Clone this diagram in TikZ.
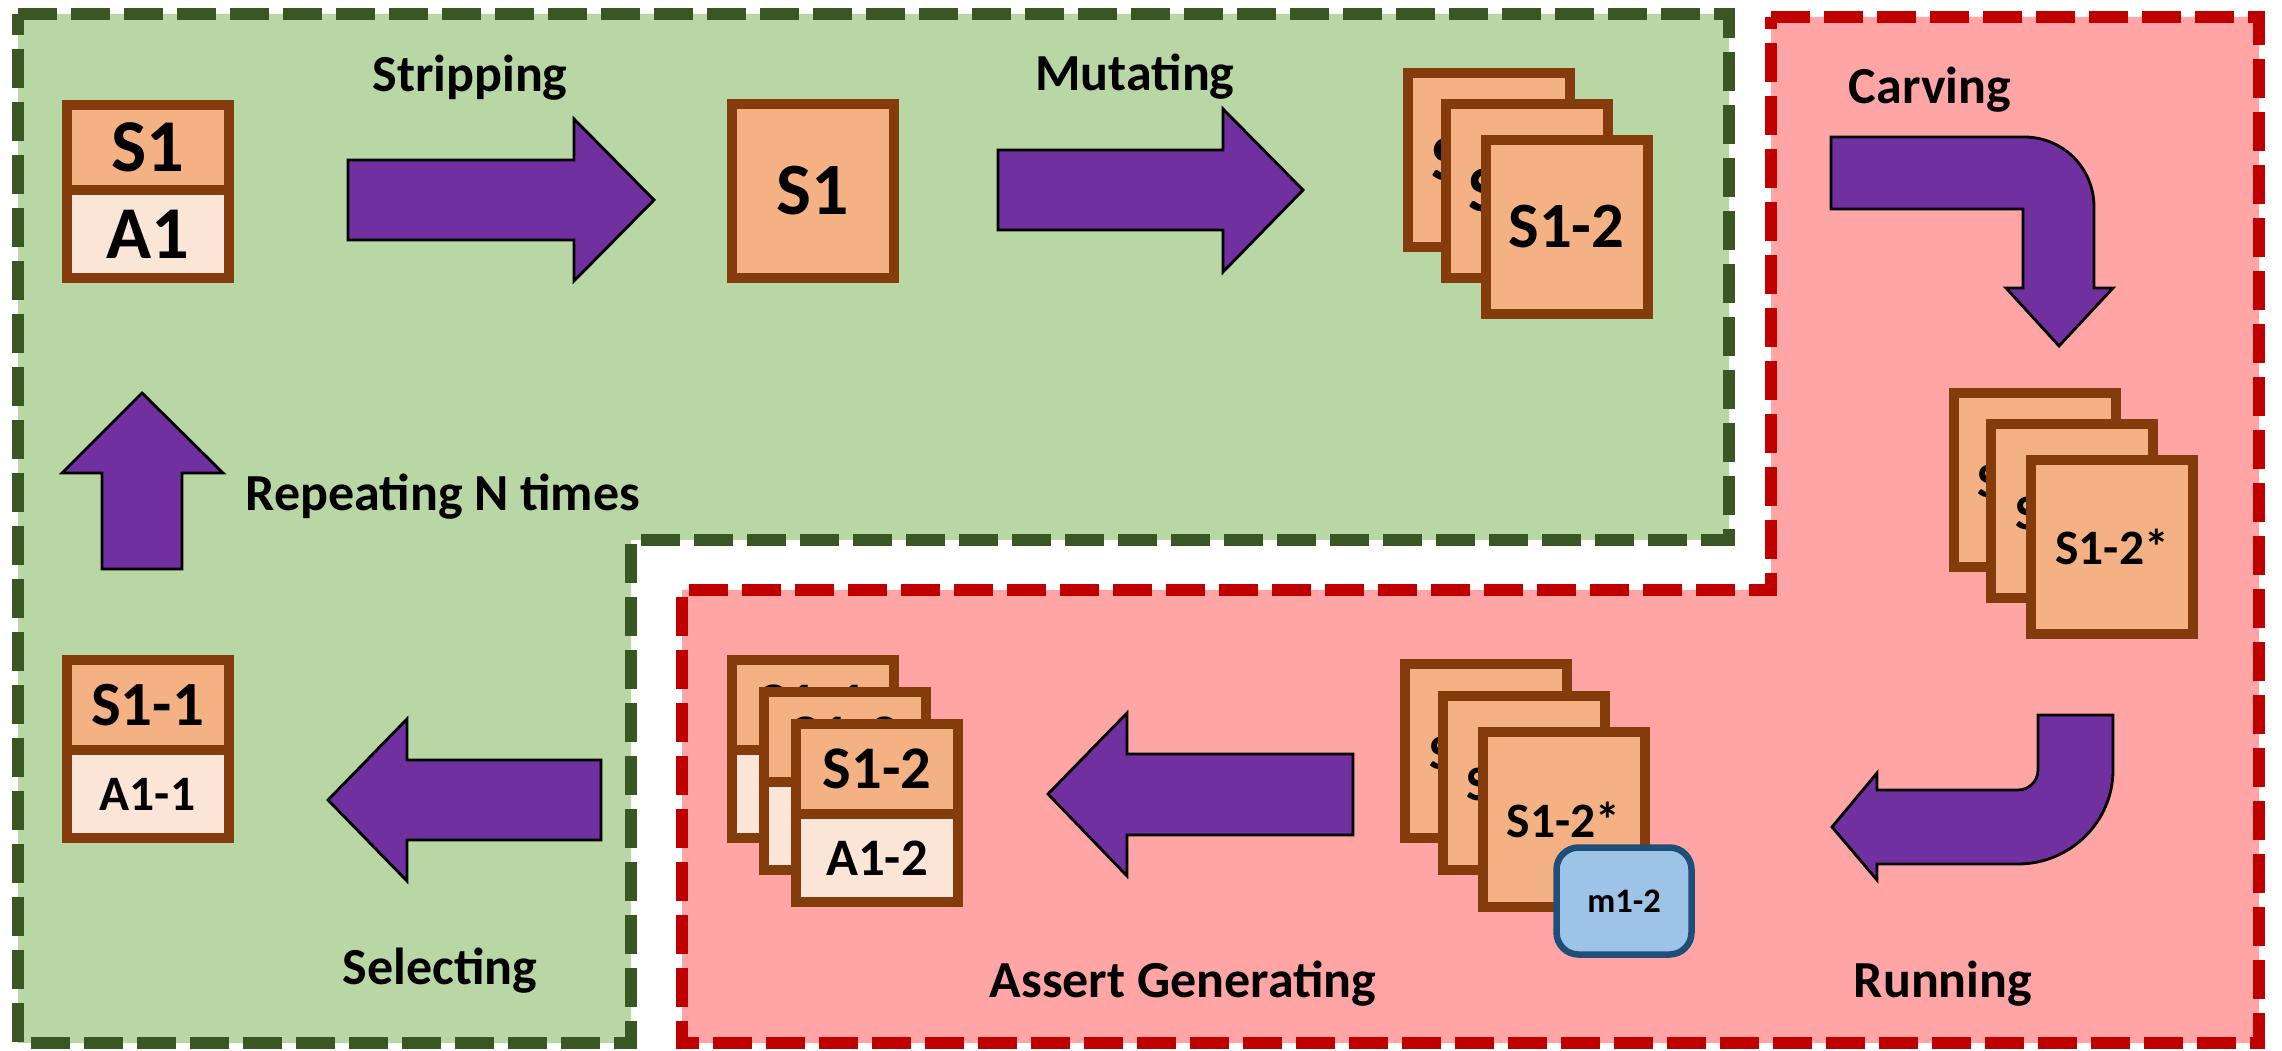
\documentclass[tikz,border=0pt]{standalone}
\usepackage{fontspec}
\setmainfont{Carlito}
\definecolor{greenzone}{HTML}{B9D6A5}
\definecolor{greenedge}{HTML}{385723}
\definecolor{redzone}{HTML}{FFA5A5}
\definecolor{rededge}{HTML}{C00000}
\definecolor{arrowpurple}{HTML}{7030A0}
\definecolor{cardbrown}{HTML}{843C0C}
\definecolor{srcfill}{HTML}{F4B183}
\definecolor{assertfill}{HTML}{FBE5D6}
\definecolor{mutfill}{HTML}{9DC3E6}
\definecolor{mutedge}{HTML}{1F4E79}
\newcommand{\fsz}[1]{\bfseries\fontsize{#1}{#1}\selectfont}
\begin{document}
\begin{tikzpicture}[x=0.1mm, y=-0.1mm,
  zone/.style={line width=1.2mm, dash pattern=on 3.9mm off 1.4mm, line join=miter},
  blockarrow/.style={fill=arrowpurple, draw=black, line width=0.8pt, line join=miter},
  card/.style={rectangle, draw=cardbrown, line width=1mm, fill=srcfill, inner sep=0pt,
    minimum width=16.2mm, minimum height=17.4mm},
  srccell/.style={rectangle, draw=cardbrown, line width=1mm, fill=srcfill, inner sep=0pt,
    minimum width=16.2mm, minimum height=9mm},
  assertcell/.style={rectangle, draw=cardbrown, line width=1mm, fill=assertfill, inner sep=0pt,
    minimum width=16.2mm, minimum height=8.8mm},
  mutbox/.style={rectangle, rounded corners=2.2mm, draw=mutedge, line width=0.65mm, fill=mutfill,
    inner sep=0pt, minimum width=13.5mm, minimum height=10.7mm, font=\fsz{9.8}},
  steplabel/.style={anchor=base, inner sep=0pt, font=\fsz{14.8}}]

\useasboundingbox (0,0) rectangle (2282,1051);
\fill[white] (0,0) rectangle (2282,1051);

% the two stage zones
\path[zone, fill=greenzone, draw=greenedge]
  (18,14) -- (1729,14) -- (1729,540) -- (631,540) -- (631,1043) -- (18,1043) -- cycle;
\path[zone, fill=redzone, draw=rededge]
  (1771,17) -- (2259,17) -- (2259,1043) -- (682,1043) -- (682,590) -- (1771,590) -- cycle;

% seed with its assertion
\node[srccell, minimum height=8.5mm, font=\fsz{21.2}] (seedS) at (148,147.5) {S1};
\node[assertcell, font=\fsz{21.2}] (seedA) at (148,234) {A1};

% stripped seed
\node[card, font=\fsz{21}] (strip) at (813,191) {S1};

% mutants
\begin{scope}[every node/.style={card, font=\fsz{18.4}}]
  \node (mutA) at (1489,160) {S1-1};
  \node (mutB) at (1526.5,191) {S1-3};
  \node (mutC) at (1566.5,227) {S1-2};
\end{scope}

% carved mutants
\begin{scope}[every node/.style={card, font=\fsz{14.1}}]
  \node (carA) at (2034.5,480) {S1-1*};
  \node (carB) at (2072,511.5) {S1-3*};
  \node (carC) at (2112,547) {S1-2*};
\end{scope}

% executed mutants
\begin{scope}[every node/.style={card, font=\fsz{14.1}}]
  \node (runA) at (1486,751.5) {S1-1*};
  \node (runB) at (1523.5,783) {S1-3*};
  \node (runC) at (1563.5,819.5) {S1-2*};
\end{scope}
\node[mutbox] (mut) at (1624,901) {m1-2};

% generated (source, assertion) pairs
\node[srccell, font=\fsz{17.2}] (genAS) at (812.5,705) {S1-1};
\node[assertcell, font=\fsz{15}] (genAA) at (812.5,794) {A1-1};
\node[srccell, font=\fsz{17.2}] (genBS) at (845,737) {S1-3};
\node[assertcell, font=\fsz{15}] (genBA) at (845,826) {A1-3};
\node[srccell, font=\fsz{17.2}] (genCS) at (877,769) {S1-2};
\node[assertcell, font=\fsz{15}] (genCA) at (877,858) {A1-2};

% selected pair
\node[srccell, font=\fsz{17.9}] (selS) at (147.5,705) {S1-1};
\node[assertcell, font=\fsz{14.1}] (selA) at (147.5,794) {A1-1};

% block arrows between the steps
\path[blockarrow] (348,160) -- (574,160) -- (574,119) -- (654,200) -- (574,281)
  -- (574,240) -- (348,240) -- cycle;
\path[blockarrow] (998,150) -- (1223,150) -- (1223,109) -- (1303,190) -- (1223,272)
  -- (1223,230) -- (998,230) -- cycle;
\path[blockarrow] (1831,137) -- (2024,137) .. controls (2063,137) and (2094,168) .. (2094,207)
  -- (2094,288) -- (2113,288) -- (2059,346) -- (2006,288) -- (2023,288) -- (2023,209)
  -- (1831,209) -- cycle;
\path[blockarrow] (2038,715) -- (2113,715) -- (2113,770) .. controls (2113,822) and (2070,864) .. (2018,864)
  -- (1877,864) -- (1877,880) -- (1832,827) -- (1877,773) -- (1877,790) -- (2018,790)
  .. controls (2029,790) and (2038,781) .. (2038,770) -- cycle;
\path[blockarrow] (1353,754) -- (1127,754) -- (1127,713) -- (1048,794) -- (1127,876)
  -- (1127,835) -- (1353,835) -- cycle;
\path[blockarrow] (601,760) -- (407,760) -- (407,719) -- (328,800) -- (407,881)
  -- (407,840) -- (601,840) -- cycle;
\path[blockarrow] (102,569) -- (102,473) -- (62,473) -- (142,393) -- (223,473)
  -- (182,473) -- (182,569) -- cycle;

% step names
\node[steplabel] (lStrip) at (470,92) {Stripping};
\node[steplabel] (lMut) at (1135,91) {Mutating};
\node[steplabel] (lCarve) at (1930,104) {Carving};
\node[steplabel] (lRep) at (443,511) {Repeating N times};
\node[steplabel] (lSel) at (440,984) {Selecting};
\node[steplabel] (lGen) at (1183,997) {Assert Generating};
\node[steplabel] (lRun) at (1943,997) {Running};
\end{tikzpicture}
\end{document}
